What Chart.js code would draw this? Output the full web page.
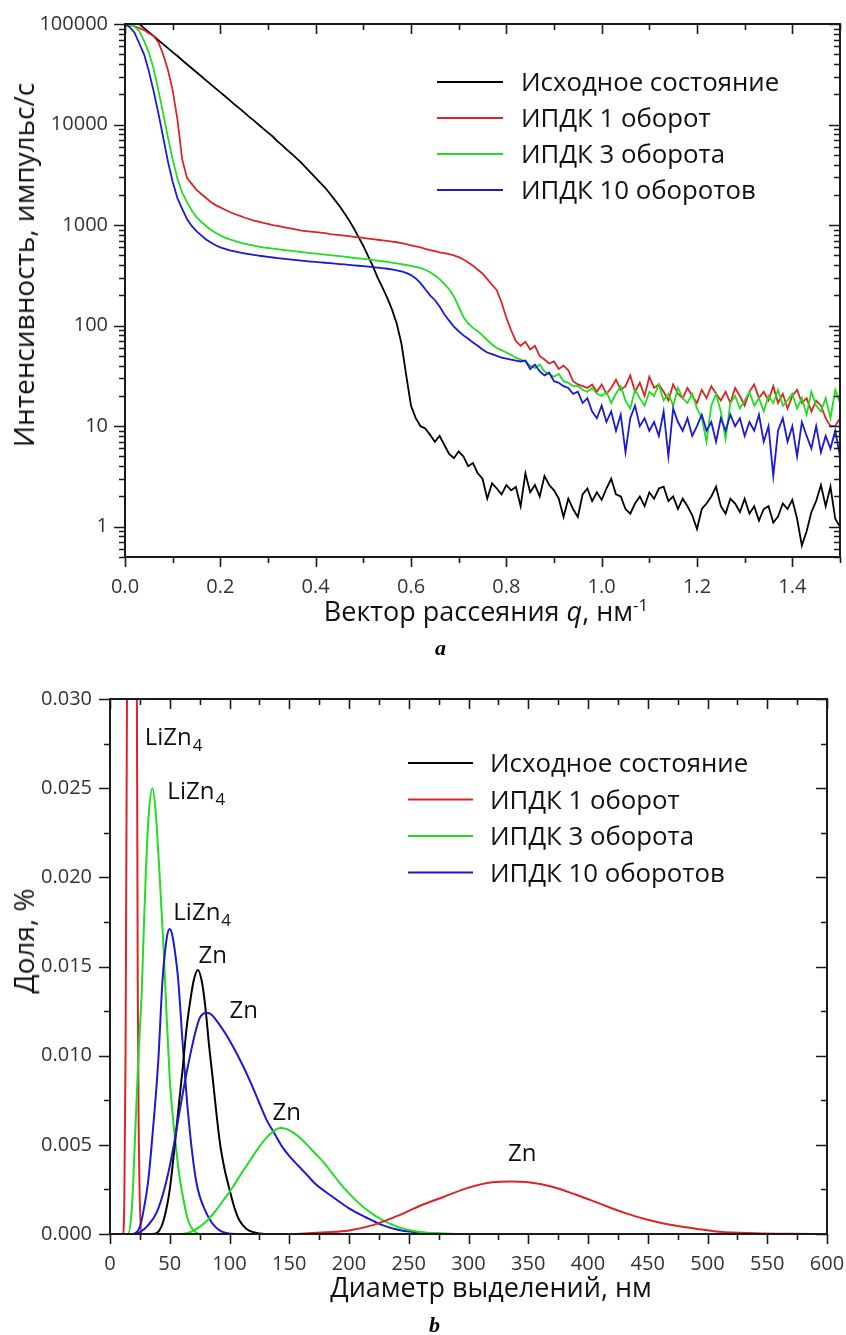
<!DOCTYPE html>
<html><head><meta charset="utf-8">
<script src="https://cdn.jsdelivr.net/npm/chart.js@4.4.0/dist/chart.umd.min.js"></script>
<style>
html,body{margin:0;padding:0;background:#fff;}
#wrap{position:relative;width:846px;height:1335px;overflow:hidden;font-family:'Open Sans',sans-serif;color:#111;}
canvas{position:absolute;left:0;}
.t{position:absolute;white-space:nowrap;font-size:27px;line-height:27px;}
.ty{font-size:28px;line-height:28px;}
.rot{transform:translate(-50%,-50%) rotate(-90deg);}
.ctr{transform:translateX(-50%);}
.panel{position:absolute;font-family:'Liberation Serif',serif;font-weight:bold;font-style:italic;font-size:22px;line-height:22px;color:#000;}
</style></head>
<body><div id="wrap">
<canvas id="c1" width="846" height="600" style="top:0px"></canvas>
<canvas id="c2" width="846" height="620" style="top:660px"></canvas>
<div class="t ctr" style="left:486px;top:597px">Вектор рассеяния <i>q</i>, нм<sup style="font-size:17px;vertical-align:10px;line-height:0">-1</sup></div>
<div class="t ty rot" style="left:23px;top:265px">Интенсивность, импульс/с</div>
<div class="panel" style="left:435px;top:637px">a</div>
<div class="t ctr" style="left:491px;top:1273px">Диаметр выделений, нм</div>
<div class="t ty rot" style="left:23px;top:941px">Доля, %</div>
<div class="panel" style="left:429px;top:1314px">b</div>
</div>
<script>
// ---------- Chart (a): SAXS intensity ----------
const q = [0.00,0.01,0.02,0.03,0.04,0.05,0.06,0.07,0.08,0.09,
0.10,0.11,0.12,0.13,0.14,0.15,0.16,0.17,0.18,0.19,
0.20,0.21,0.22,0.23,0.24,0.25,0.26,0.27,0.28,0.29,
0.30,0.31,0.32,0.33,0.34,0.35,0.36,0.37,0.38,0.39,
0.40,0.41,0.42,0.43,0.44,0.45,0.46,0.47,0.48,0.49,
0.50,0.51,0.52,0.53,0.54,0.55,0.56,0.57,0.58,0.59,
0.60,0.61,0.62,0.63,0.64,0.65,0.66,0.67,0.68,0.69,
0.70,0.71,0.72,0.73,0.74,0.75,0.76,0.77,0.78,0.79,
0.80,0.81,0.82,0.83,0.84,0.85,0.86,0.87,0.88,0.89,
0.90,0.91,0.92,0.93,0.94,0.95,0.96,0.97,0.98,0.99,
1.00,1.01,1.02,1.03,1.04,1.05,1.06,1.07,1.08,1.09,
1.10,1.11,1.12,1.13,1.14,1.15,1.16,1.17,1.18,1.19,
1.20,1.21,1.22,1.23,1.24,1.25,1.26,1.27,1.28,1.29,
1.30,1.31,1.32,1.33,1.34,1.35,1.36,1.37,1.38,1.39,
1.40,1.41,1.42,1.43,1.44,1.45,1.46,1.47,1.48,1.49,
1.50];
const intInitial = [132000,120000,110000,100000,91000,83000,76000,69000,63000,57500,
52500,48000,43600,39800,36300,33100,30200,27500,25100,22900,
20900,19100,17400,15800,14500,13200,12000,11000,10000,9100,
8300,7600,6800,6200,5600,5100,4600,4150,3700,3300,
2950,2630,2350,2050,1780,1550,1320,1120,930,760,
620,490,390,300,240,190,145,105,66,32,
16,12,10,9.5,8.2,7.0,8.0,6.5,5.3,4.8,
5.6,5.0,4.0,4.3,3.4,3.0,1.9,2.7,2.4,2.1,
2.6,2.3,2.5,1.6,3.4,2.2,2.6,2.0,3.2,2.6,
2.3,1.9,1.25,1.9,1.5,1.25,2.1,2.4,1.8,2.2,
1.85,2.4,3.0,2.1,2.0,1.5,1.35,1.7,2.0,1.6,
2.2,1.9,2.4,2.5,1.8,2.0,1.5,1.9,1.6,1.3,
0.95,1.5,1.7,2.0,2.5,1.6,1.35,1.9,1.7,1.4,
1.9,1.35,1.6,1.15,1.5,1.6,1.1,1.26,1.7,1.5,
1.85,1.2,0.65,0.9,1.4,1.8,2.6,1.6,2.5,1.2,
1.0];
const int1 = [100000,98000,95000,91000,87000,81000,76000,66000,50000,35000,
22000,11200,4500,2950,2570,2240,2040,1860,1700,1580,
1500,1420,1350,1290,1240,1190,1150,1110,1080,1050,
1030,1000,980,960,940,920,900,880,870,860,
850,840,830,815,805,795,785,775,765,755,
745,735,725,715,705,695,685,675,660,645,
630,615,600,580,565,550,535,525,515,500,
480,455,425,395,360,330,290,255,225,170,
120,90,70,63,69,58,63,50,46,42,
44,37,40,36,28,26,25,24,26,22,
26,21,24,29,23,25,32,22,27,20,
31,24,26,22,18,26,21,19,24,20,
17,23,19,25,21,18,22,17,24,20,
16,22,26,19,22,18,25,17,21,15,
20,23,17,19,14,18,16,12,10,10,
12];
const int3 = [100000,98000,94000,85000,68000,52000,36000,22000,13000,7500,
4500,2900,2100,1700,1400,1200,1080,980,900,840,
790,750,720,695,675,655,640,625,612,600,
592,584,576,568,561,554,547,540,533,527,
521,515,509,503,497,491,485,479,473,467,
461,455,449,443,437,430,423,416,409,401,
393,385,375,360,340,315,290,260,230,195,
155,122,105,95,88,80,72,65,60,57,
54,51,48,46,44,40,38,41,35,33,
31,33,28,27,25,25,23,22,24,21,
20,22,17,21,25,18,15,23,19,16,
22,20,26,18,21,16,24,19,17,21,
15,12,7,16,21,14,7.5,17,20,15,
18,22,16,19,14,20,17,23,16,18,
21,15,19,13,22,16,14,19,12,23,
17];
const int10 = [100000,93000,82000,64000,50000,34000,21500,13000,7500,4300,
2700,1850,1450,1150,980,870,790,720,670,630,
600,580,562,548,535,524,514,505,497,490,
483,476,470,464,458,453,448,443,438,434,
430,426,422,418,414,410,406,402,398,394,
390,386,382,378,373,368,362,355,346,335,
318,295,265,230,200,180,155,130,112,98,
88,80,74,68,63,58,54,52,50,48,
47,46,45,44,45,37,41,35,32,34,
28,27,25,24,21,22,17,19,14,12,
16,11,14,9,13,5.5,12,16,10,12,
9,11,8,14,5,15,11,9,12,8,
10,13,9,11,7,12,9,13,10,12,
8,11,9,13,7,10,3.2,9,12,7,
10,5,11,8,6,10,5.5,8,6,9,
5];
const qTickLabels = [0.0,0.2,0.4,0.6,0.8,1.0,1.2,1.4];
const qMinorTicks = [0.1,0.3,0.5,0.7,0.9,1.1,1.3,1.5];
const intTickLabels = [1,10,100,1000,10000,100000];

// ---------- Chart (b): size distributions ----------
const dInitialZn = [0,35,40,45,50,55,58,61,64,67,70,73.5,77,80,83,86,89,92,96,100,104,108,114,120,130,600];
const vInitialZn = [0,0,0.0001,0.0008,0.0025,0.0055,0.0075,0.0094,0.0115,0.0130,0.0142,0.0148,0.0141,0.0126,0.0105,0.0087,0.0068,0.0051,0.0036,0.0025,0.0015,0.0008,0.0003,0.0001,0,0];
const d1Li = [0,11,12,13,14.2,15,16.5,18,20,21.5,22.5,23.2,24,24.6,26,600];
const v1Li = [0,0,0.002,0.010,0.030,0.045,0.062,0.068,0.058,0.042,0.030,0.0143,0.006,0.003,0,0];
const d1Zn = [0,150,180,200,220,240,260,280,300,320,336,350,370,390,410,430,450,470,490,510,540,570,600];
const v1Zn = [0,0,0.0001,0.0002,0.0005,0.0010,0.0016,0.0021,0.0026,0.0029,0.00294,0.0029,0.00265,0.0022,0.0017,0.0012,0.0008,0.0005,0.0003,0.00012,0.00004,0.00001,0];
const d3Li = [0,15,18,19.5,21,23,25,26.5,28,30,32.5,35.6,38.3,41.7,45,47,50,52,55,58,61,64,67,70,75,600];
const v3Li = [0,0,0.0012,0.003,0.0055,0.0087,0.0115,0.0135,0.0165,0.0203,0.0236,0.025,0.0236,0.0199,0.0158,0.0128,0.0087,0.0070,0.0050,0.0033,0.0021,0.0011,0.0005,0.0002,0,0];
const d3Zn = [0,60,67,75,82,89,96,103,110,117,124,131,137,142.5,148,153,158,165,172,179,186,193,200,214,228,242,258,280,300,600];
const v3Zn = [0,0,0.0001,0.0004,0.0008,0.00135,0.0020,0.00265,0.0034,0.0041,0.0048,0.0054,0.00577,0.00594,0.00588,0.0057,0.00545,0.0050,0.0045,0.0040,0.0034,0.0028,0.00228,0.0014,0.00078,0.00037,0.00013,0.00003,0,0];
const d10Li = [0,19,25,28,32,36,40.3,44,46,48,50,52,54,57,61,65.3,72,80.5,91.7,105,600];
const v10Li = [0,0,0.0004,0.0013,0.003,0.0059,0.0096,0.0143,0.0158,0.0168,0.0171,0.0168,0.0160,0.0143,0.0105,0.0068,0.003,0.0012,0.0002,0,0];
const d10Zn = [0,20,25,32,39,45,50,54,58,62,67,71,75,78,81,85,92,97,103,110,117,124,131,138,144,151,158,165,172,186,200,214,228,242,258,275,300,600];
const v10Zn = [0,0,0.0001,0.0005,0.0012,0.0024,0.0038,0.0052,0.0068,0.0083,0.0100,0.0112,0.0121,0.01235,0.0124,0.0123,0.0117,0.0112,0.0105,0.0096,0.0086,0.0075,0.0064,0.0056,0.0049,0.0043,0.0038,0.0033,0.0028,0.0021,0.00144,0.00094,0.0005,0.00022,0.00008,0.00002,0,0];
const dTickLabels = [0,50,100,150,200,250,300,350,400,450,500,550,600];
const dMinorTicks = [25,75,125,175,225,275,325,375,425,475,525,575];
const fracTickLabels = [0,0.005,0.010,0.015,0.020,0.025,0.030];
const fracMinorTicks = [0.0025,0.0075,0.0125,0.0175,0.0225,0.0275];

const annoMain = ['LiZn','LiZn','LiZn','Zn','Zn','Zn','Zn'];
const annoSub = ['4','4','4','','','',''];
const annoX = [29,48,53,74,100,136,333];
const annoY = [0.0274,0.0244,0.0176,0.0152,0.0121,0.0064,0.0041];

const seriesNames = ['Исходное состояние','ИПДК 1 оборот','ИПДК 3 оборота','ИПДК 10 оборотов'];
const seriesColors = ['#000000','#dd2424','#22dd22','#1a1ad0'];

// ---------- plugins ----------
const frameTicks = {
  id:'frameTicks',
  afterDatasetsDraw(chart, args, o){
    const {ctx, chartArea:a} = chart; const xs = chart.scales.x, ys = chart.scales.y;
    ctx.save();
    ctx.strokeStyle = '#1a1a1a';
    ctx.lineWidth = 1.6;
    ctx.beginPath();
    const xt = (vals,len)=>vals.forEach(v=>{const p=Math.round(xs.getPixelForValue(v))+0.5;
      ctx.moveTo(p,a.bottom); ctx.lineTo(p,a.bottom+len); ctx.moveTo(p,a.top); ctx.lineTo(p,a.top+len);});
    const yt = (vals,len)=>vals.forEach(v=>{const p=Math.round(ys.getPixelForValue(v))+0.5;
      ctx.moveTo(a.left-len,p); ctx.lineTo(a.left,p); ctx.moveTo(a.right,p); ctx.lineTo(a.right-len,p);});
    xt(o.xMajor,10); xt(o.xMinor,6); yt(o.yMajor,11); yt(o.yMinor,6);
    ctx.stroke();
    ctx.lineWidth = 2;
    ctx.strokeRect(a.left, a.top, a.right-a.left, a.bottom-a.top);
    ctx.restore();
  }
};
const ownLegend = {
  id:'ownLegend',
  afterDraw(chart, args, o){
    const ctx = chart.ctx; ctx.save();
    ctx.font = '25.8px "Open Sans"'; ctx.textBaseline = 'alphabetic'; ctx.fillStyle = '#111';
    seriesNames.forEach((n,i)=>{
      const y = o.y0 + i*o.dy;
      ctx.strokeStyle = seriesColors[i]; ctx.lineWidth = 2;
      ctx.beginPath(); ctx.moveTo(o.x0,y); ctx.lineTo(o.x1,y); ctx.stroke();
      ctx.fillText(n, o.tx, y+9);
    });
    ctx.restore();
  }
};
const annoPlugin = {
  id:'annoPlugin',
  afterDatasetsDraw(chart){
    const ctx = chart.ctx; const xs = chart.scales.x, ys = chart.scales.y;
    ctx.save(); ctx.fillStyle = '#111'; ctx.textBaseline = 'alphabetic';
    annoMain.forEach((t,i)=>{
      const px = xs.getPixelForValue(annoX[i]), py = ys.getPixelForValue(annoY[i]);
      ctx.font = '24px "Open Sans"'; ctx.fillText(t, px, py);
      if (annoSub[i]) { const w = ctx.measureText(t).width; ctx.font = '17px "Open Sans"'; ctx.fillText(annoSub[i], px+w+1, py+6); }
    });
    ctx.restore();
  }
};

const tickFont = {family:'Open Sans', size:20};
const pts = (xs, ys) => xs.map((x,i)=>({x:x, y:ys[i]}));
const fitX = h => s => { s.height = h; s.paddingLeft = 0; s.paddingRight = 0; };
const fitY = w => s => { s.width = w; s.paddingTop = 0; s.paddingBottom = 0; };

// ---------- chart a ----------
const logMinor = [];
[0.1,1,10,100,1000,10000].forEach(dec=>{ for(let k=2;k<=9;k++){ const v=k*dec; if(v>=0.5 && v<100000) logMinor.push(v);} });
new Chart(document.getElementById('c1'), {
  type:'line',
  data:{datasets:[
    {label:seriesNames[0], data:pts(q,intInitial), borderColor:seriesColors[0], order:3},
    {label:seriesNames[1], data:pts(q,int1), borderColor:seriesColors[1], order:2},
    {label:seriesNames[2], data:pts(q,int3), borderColor:seriesColors[2], order:1},
    {label:seriesNames[3], data:pts(q,int10), borderColor:seriesColors[3], order:0}
  ]},
  options:{
    responsive:false, animation:false, events:[],
    layout:{padding:{top:24,right:6,left:0,bottom:0}},
    elements:{point:{radius:0}, line:{borderWidth:1.8, tension:0}},
    plugins:{legend:{display:false}, tooltip:{enabled:false},
      frameTicks:{xMajor:qTickLabels, xMinor:qMinorTicks, yMajor:intTickLabels, yMinor:logMinor},
      ownLegend:{x0:437, x1:503, tx:521, y0:82, dy:36}},
    scales:{
      x:{type:'linear', min:0, max:1.5,
        grid:{display:false, drawTicks:false, tickLength:0}, border:{display:false},
        afterBuildTicks:s=>{s.ticks = qTickLabels.map(v=>({value:v}));},
        afterFit:fitX(43),
        ticks:{padding:18, font:tickFont, color:'#333', maxRotation:0, autoSkip:false, callback:v=>Number(v).toFixed(1)}},
      y:{type:'logarithmic', min:0.5, max:100000,
        grid:{display:false, drawTicks:false, tickLength:0}, border:{display:false},
        afterBuildTicks:s=>{s.ticks = intTickLabels.map(v=>({value:v}));},
        afterFit:fitY(125),
        ticks:{padding:17, font:tickFont, color:'#333', autoSkip:false, callback:v=>String(v)}}
    }
  },
  plugins:[frameTicks, ownLegend]
});

// ---------- chart b ----------
const mono = {cubicInterpolationMode:'monotone', borderWidth:2};
new Chart(document.getElementById('c2'), {
  type:'line',
  data:{datasets:[
    Object.assign({data:pts(d1Zn,v1Zn), borderColor:seriesColors[1]}, mono),
    Object.assign({data:pts(d3Zn,v3Zn), borderColor:seriesColors[2]}, mono),
    Object.assign({data:pts(d10Zn,v10Zn), borderColor:seriesColors[3]}, mono),
    Object.assign({data:pts(dInitialZn,vInitialZn), borderColor:seriesColors[0]}, mono),
    Object.assign({data:pts(d10Li,v10Li), borderColor:seriesColors[3]}, mono),
    Object.assign({data:pts(d3Li,v3Li), borderColor:seriesColors[2]}, mono),
    Object.assign({data:pts(d1Li,v1Li), borderColor:seriesColors[1]}, mono)
  ]},
  options:{
    responsive:false, animation:false, events:[],
    layout:{padding:{top:39,right:19,left:0,bottom:0}},
    elements:{point:{radius:0}},
    plugins:{legend:{display:false}, tooltip:{enabled:false},
      frameTicks:{xMajor:dTickLabels, xMinor:dMinorTicks, yMajor:fracTickLabels, yMinor:fracMinorTicks},
      ownLegend:{x0:408, x1:473, tx:490, y0:103, dy:36.5}},
    scales:{
      x:{type:'linear', min:0, max:600,
        grid:{display:false, drawTicks:false, tickLength:0}, border:{display:false},
        afterBuildTicks:s=>{s.ticks = dTickLabels.map(v=>({value:v}));},
        afterFit:fitX(46),
        ticks:{padding:18, font:tickFont, color:'#333', maxRotation:0, autoSkip:false, callback:v=>String(v)}},
      y:{type:'linear', min:0, max:0.03,
        grid:{display:false, drawTicks:false, tickLength:0}, border:{display:false},
        afterBuildTicks:s=>{s.ticks = fracTickLabels.map(v=>({value:v}));},
        afterFit:fitY(110),
        ticks:{padding:18, font:tickFont, color:'#333', autoSkip:false, callback:v=>Number(v).toFixed(3)}}
    }
  },
  plugins:[frameTicks, ownLegend, annoPlugin]
});
</script>
</body></html>
